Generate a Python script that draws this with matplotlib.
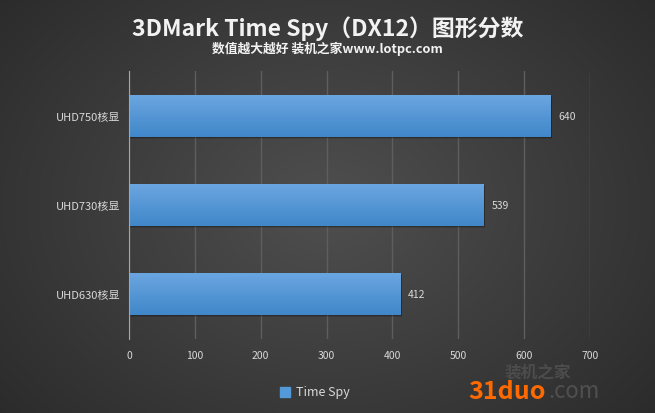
import matplotlib
matplotlib.use('Agg')
import matplotlib.pyplot as plt
import numpy as np
from matplotlib.patches import Rectangle

plt.rcParams['font.family'] = ['Noto Sans CJK SC', 'DejaVu Sans']

categories = ['UHD630核显', 'UHD730核显', 'UHD750核显']
scores = [412, 539, 640]
xticks = [0, 100, 200, 300, 400, 500, 600, 700]
series_name = 'Time Spy'
title = '3DMark Time Spy（DX12）图形分数'
subtitle = '数值越大越好 装机之家www.lotpc.com'

fig = plt.figure(figsize=(6.55, 4.14), dpi=100)

# radial-ish dark background
bg = fig.add_axes([0, 0, 1, 1], zorder=-10)
yy, xx = np.mgrid[0:1:200j, 0:1:300j]
r = np.sqrt(((xx - 0.5) / 0.75) ** 2 + ((yy - 0.5) / 0.9) ** 2)
shade = np.clip(0.31 - 0.16 * r, 0.15, 0.31)
bg.imshow(np.dstack([shade, shade, shade]), extent=[0, 1, 0, 1], aspect='auto')
bg.axis('off')

ax = fig.add_axes([129 / 655, 1 - 340 / 414, (590 - 129) / 655, 268 / 414])
ax.patch.set_alpha(0)
ypos = np.arange(len(categories))
bars = ax.barh(ypos, scores, height=0.47, color='#559ad8', zorder=3)

# soft shadow and vertical gradient for bars
grad = np.linspace(0, 1, 100).reshape(-1, 1)
top_c = np.array([0.42, 0.65, 0.88])
bot_c = np.array([0.25, 0.53, 0.79])
img = top_c * (1 - grad[..., None]) + bot_c * grad[..., None]
for b in bars:
    x0, y0, w, h = b.get_x(), b.get_y(), b.get_width(), b.get_height()
    for k, a in [(0.012, 0.22), (0.024, 0.12)]:
        ax.add_patch(Rectangle((x0, y0 - k), w + 2, h, color='black', alpha=a,
                               zorder=2, lw=0))
    im = ax.imshow(img, extent=[x0, x0 + w, y0, y0 + h], origin='upper',
                   aspect='auto', zorder=4)
    im.set_clip_path(b)

for y, v in zip(ypos, scores):
    ax.text(v + 12, y, str(v), va='center', ha='left', color='#d9d9d9', fontsize=7.5)

ax.set_xlim(0, 700)
ax.set_ylim(-0.5, 2.5)
ax.set_xticks(xticks)
ax.set_xticklabels([str(t) for t in xticks], color='#d9d9d9', fontsize=7.5)
ax.set_yticks(ypos)
ax.set_yticklabels(categories, color='#d9d9d9', fontsize=8)
ax.tick_params(axis='x', length=0, pad=8)
ax.tick_params(axis='y', length=0, pad=6)
ax.grid(axis='x', color='#5e5e5e', lw=1, zorder=0)
for s in ['top', 'right', 'bottom']:
    ax.spines[s].set_visible(False)
ax.spines['left'].set_color('#a6a6a6')
ax.spines['left'].set_zorder(5)

fig.text(0.5, 1 - 29 / 414, title, ha='center', va='center', color='#f2f2f2',
         fontsize=16.5, fontweight='bold')
fig.text(0.5, 1 - 48.5 / 414, subtitle, ha='center', va='center', color='#f2f2f2',
         fontsize=9.2, fontweight='bold')

# legend
fig.patches.append(Rectangle((280 / 655, 1 - 398 / 414), 10 / 655, 10 / 414,
                             transform=fig.transFigure, color='#559ad8'))
fig.text(296 / 655, 1 - 393 / 414, series_name, ha='left', va='center',
         color='#d9d9d9', fontsize=9)

# watermark
fig.text(468 / 655, 1 - 392 / 414, '31duo', ha='left', va='center', color='#ff6a00',
         fontsize=18, fontweight='bold')
fig.text(548 / 655, 1 - 392 / 414, '.com', ha='left', va='center', color='#505050',
         fontsize=16)
fig.text(505 / 655, 1 - 373 / 414, '装机之家', ha='left', va='center', color='#4c4c4c',
         fontsize=12, fontweight='bold')

fig.savefig('out.png', dpi=100)
